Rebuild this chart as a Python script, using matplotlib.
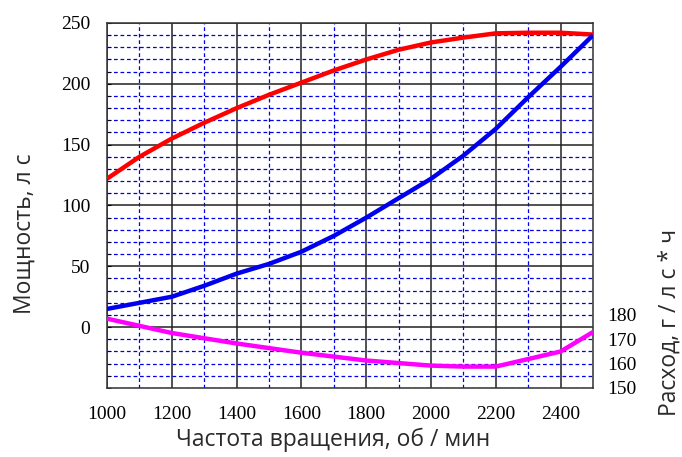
import matplotlib.pyplot as plt
from matplotlib.ticker import MultipleLocator

# частота вращения, об/мин
rpm = [1000, 1100, 1200, 1300, 1400, 1500, 1600, 1700, 1800, 1900, 2000, 2100, 2200, 2300, 2400, 2500]

# мощность (красная), л с
power = [122, 140, 155, 168, 180, 191, 201, 211, 220, 228, 234, 238, 241.5, 242, 242, 240.5]
# вторая кривая (синяя), левая ось
blue = [15, 20, 25, 34, 44, 52, 62, 75, 90, 106, 122, 141, 163, 189, 214, 240]

# расход топлива (розовая), г/л с*ч, правая ось
fuel_rpm = [1000, 1200, 1400, 1600, 1800, 2000, 2100, 2200, 2400, 2500]
fuel = [178.5, 172.6, 168.3, 164.5, 161.3, 159.2, 158.8, 158.8, 165, 173]

left_ticks = [0, 50, 100, 150, 200, 250]
right_ticks = [150, 160, 170, 180]
x_ticks = [1000, 1200, 1400, 1600, 1800, 2000, 2200, 2400]

fig = plt.figure(figsize=(6.82, 4.57), dpi=100)
ax = fig.add_axes([107/682, 1-388/457, (593-107)/682, (388-23)/457])

tick_font = dict(family='Liberation Serif', size=14)

ax.set_xlim(1000, 2500)
ax.set_ylim(-50, 250)
ax.xaxis.set_major_locator(MultipleLocator(200))
ax.xaxis.set_minor_locator(MultipleLocator(100))
ax.yaxis.set_major_locator(MultipleLocator(50))
ax.yaxis.set_minor_locator(MultipleLocator(10))
ax.grid(which='minor', color='#0000ee', linestyle=(0, (3, 2.2)), linewidth=0.9)
ax.grid(which='major', color='#222222', linestyle='-', linewidth=1.1)
ax.set_axisbelow(True)
ax.set_xticks(x_ticks)
ax.set_xticklabels([str(v) for v in x_ticks], **tick_font)
ax.set_yticks(left_ticks)
ax.set_yticklabels([str(v) for v in left_ticks], **tick_font)
ax.tick_params(which='both', left=False, bottom=False, right=True, direction='in', length=3)
ax.tick_params(axis='x', pad=13)
ax.tick_params(axis='y', pad=12)
for s in ax.spines.values():
    s.set_color('#333333')
    s.set_linewidth(1.1)

ax.plot(rpm, power, color='#ff0000', linewidth=3.2, solid_capstyle='butt', zorder=5)
ax.plot(rpm, blue, color='#0000ee', linewidth=3.2, solid_capstyle='butt', zorder=5)

ax2 = ax.twinx()
ax2.set_ylim(150, 300)
ax2.set_yticks(right_ticks)
ax2.set_yticklabels([str(v) for v in right_ticks], **tick_font)
ax2.tick_params(length=0, pad=10)
for s in ax2.spines.values():
    s.set_visible(False)
ax2.plot(fuel_rpm, fuel, color='#ff00ff', linewidth=3.2, solid_capstyle='butt', zorder=5)

label_font = dict(family='Open Sans', size=16.5, color='#2a2a2a')
fig.text(333/682, 1-440/457, 'Частота вращения, об / мин', ha='center', va='center', **label_font)
fig.text(25/682, 1-234/457, 'Мощность, л с', rotation=90, ha='center', va='center', **label_font)
fig.text(670/682, 1-322/457, 'Расход, г / л с * ч', rotation=90, ha='center', va='center', **label_font)

fig.savefig('out.png', dpi=100)
